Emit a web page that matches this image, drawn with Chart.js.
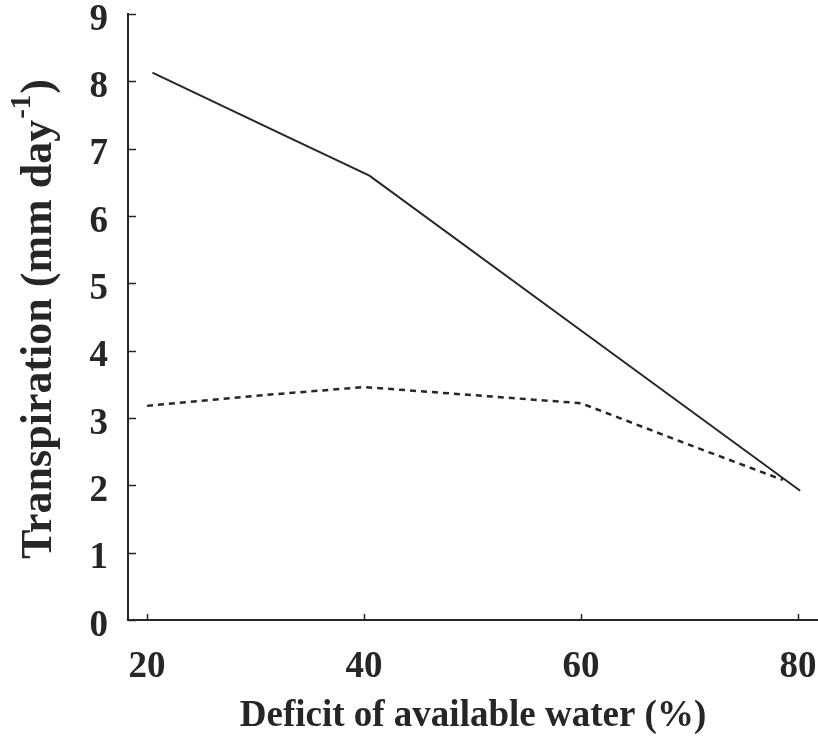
<!DOCTYPE html>
<html>
<head>
<meta charset="utf-8">
<script src="https://cdn.jsdelivr.net/npm/chart.js@4.4.1/dist/chart.umd.min.js"></script>
<style>
  html, body { margin: 0; background: #fff; }
  canvas { display: block; }
</style>
</head>
<body>
<canvas id="c" width="818" height="736"></canvas>
<script>
// Transpiration vs deficit of available water — two curves, solid and dashed.
const xTicks = [20, 40, 60, 80];
const yTicks = [0, 1, 2, 3, 4, 5, 6, 7, 8, 9];

const solidX = [20.5, 33, 40.5, 60, 80.2];
const solidY = [8.13, 7.17, 6.6, 4.3, 1.92];

const dashX = [20, 30, 40, 50, 60, 70, 78.6];
const dashY = [3.18, 3.33, 3.46, 3.34, 3.22, 2.6, 2.08];

const xTitle = 'Deficit of available water (%)';
const yTitle = ['Transpiration (mm day', '-1', ')'];

const INK = '#262626';
const FONT = "'Liberation Serif', 'Times New Roman', serif";

const pts = (xs, ys) => xs.map((x, i) => ({ x, y: ys[i] }));

// tick marks point inward, and y title needs a superscript
const extras = {
    id: 'extras',
    afterDraw(chart) {
        const { ctx, scales: { x, y }, chartArea: a } = chart;
        ctx.save();
        ctx.strokeStyle = INK;
        ctx.lineWidth = 1.5;
        ctx.beginPath();
        y.ticks.forEach((t) => {
            const py = Math.round(y.getPixelForValue(t.value)) + 0.5;
            ctx.moveTo(a.left, py); ctx.lineTo(a.left + 8, py);
        });
        x.ticks.forEach((t) => {
            const px = Math.round(x.getPixelForValue(t.value)) + 0.5;
            ctx.moveTo(px, a.bottom); ctx.lineTo(px, a.bottom - 6);
        });
        ctx.stroke();

        // y title, rotated
        const big = `bold 44px ${FONT}`, small = `bold 29px ${FONT}`;
        ctx.font = big; const w1 = ctx.measureText(yTitle[0]).width;
        const w3 = ctx.measureText(yTitle[2]).width;
        ctx.font = small; const w2 = ctx.measureText(yTitle[1]).width;
        const total = w1 + w2 + w3 + 2;
        ctx.translate(40, 319);
        ctx.rotate(-Math.PI / 2);
        ctx.fillStyle = INK;
        ctx.textBaseline = 'middle';
        ctx.textAlign = 'left';
        let cx = -total / 2;
        ctx.font = big; ctx.fillText(yTitle[0], cx, 0); cx += w1 + 1;
        ctx.font = small; ctx.fillText(yTitle[1], cx, -17); cx += w2 + 1;
        ctx.font = big; ctx.fillText(yTitle[2], cx, 0);
        ctx.restore();
    },
};

new Chart(document.getElementById('c'), {
    type: 'scatter',
    data: {
        datasets: [
            { data: pts(solidX, solidY), showLine: true, borderColor: INK, borderWidth: 2,
              pointRadius: 0, tension: 0 },
            { data: pts(dashX, dashY), showLine: true, borderColor: INK, borderWidth: 2.5,
              borderDash: [6, 5], pointRadius: 0, tension: 0 },
        ],
    },
    options: {
        responsive: false,
        animation: false,
        layout: { padding: { top: 14, right: 0, left: 0, bottom: 0 } },
        plugins: { legend: { display: false }, tooltip: { enabled: false } },
        scales: {
            x: {
                type: 'linear', min: 18.25, max: 81.84,
                afterBuildTicks: (s) => { s.ticks = xTicks.map((v) => ({ value: v })); },
                afterFit: (s) => { s.height = 116; s.paddingLeft = 0; s.paddingRight = 0; },
                grid: { display: false, drawTicks: false },
                border: { display: true, color: INK, width: 2 },
                ticks: { color: INK, padding: 25, maxRotation: 0,
                    font: { family: FONT, size: 37, weight: 'bold' } },
                title: { display: true, text: xTitle, color: INK, padding: { top: 0, bottom: -3 },
                    font: { family: FONT, size: 37, weight: 'bold' } },
            },
            y: {
                min: 0, max: 9,
                afterBuildTicks: (s) => { s.ticks = yTicks.map((v) => ({ value: v })); },
                afterFit: (s) => { s.width = 128; s.paddingTop = 0; s.paddingBottom = 0; },
                grid: { display: false, drawTicks: false },
                border: { display: true, color: INK, width: 2 },
                ticks: { color: INK, padding: 20, labelOffset: 6,
                    font: { family: FONT, size: 37, weight: 'bold' } },
            },
        },
    },
    plugins: [extras],
});
</script>
</body>
</html>
